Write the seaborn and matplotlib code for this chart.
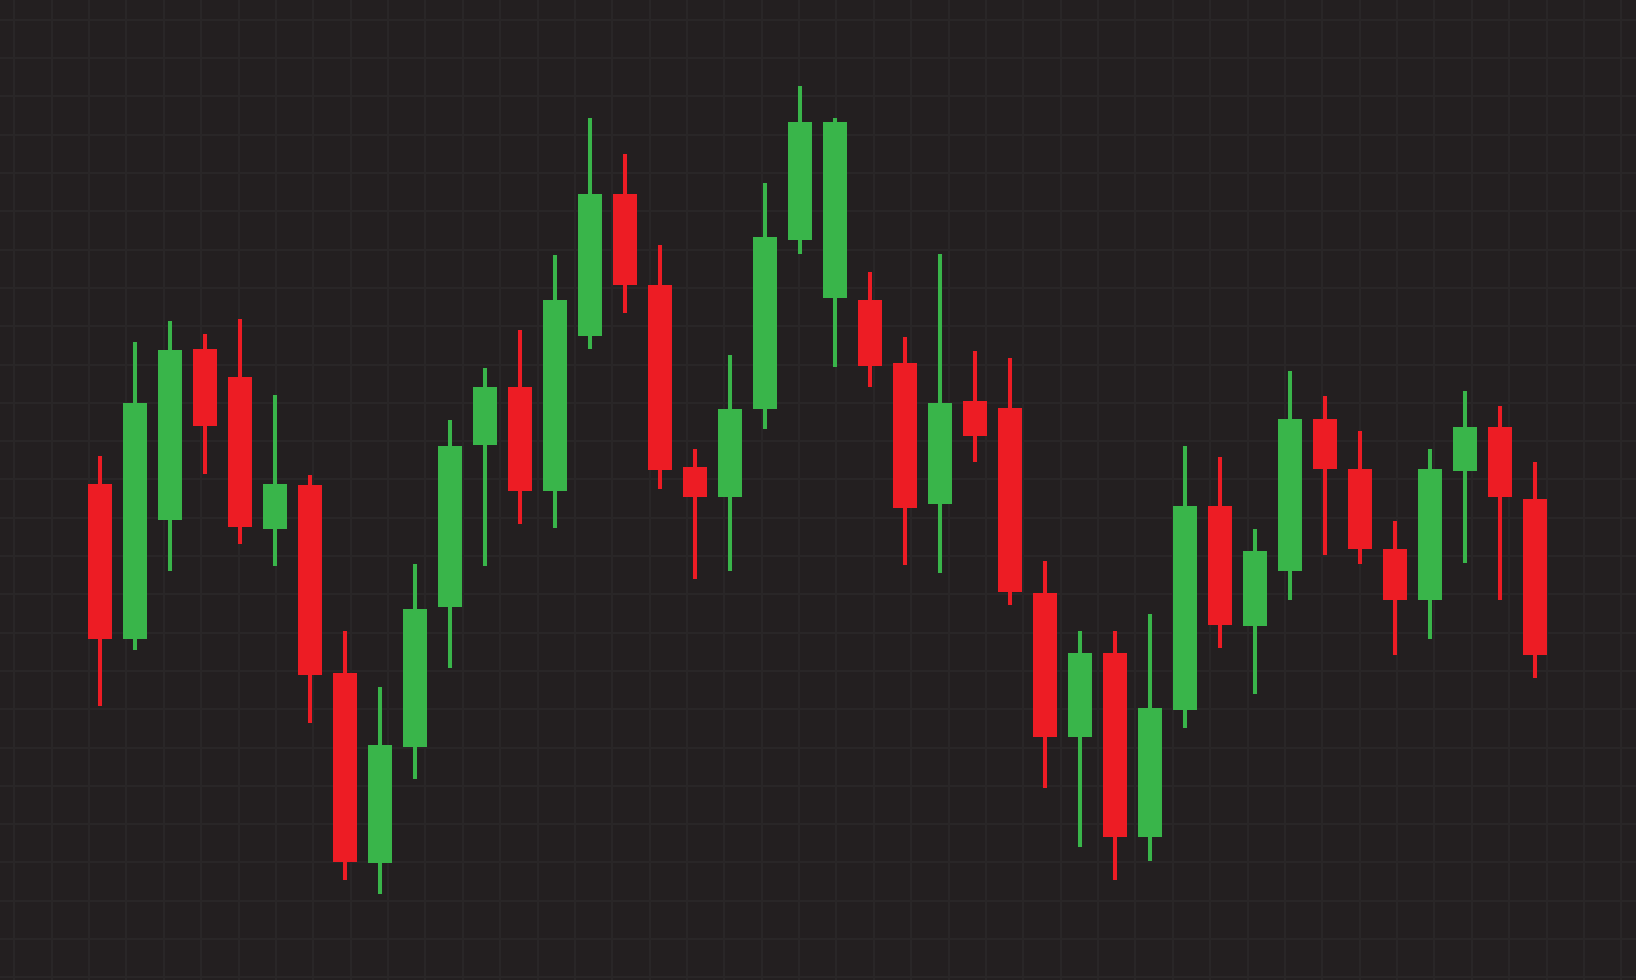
import numpy as np
import pandas as pd
import matplotlib
matplotlib.use("Agg")
import matplotlib.pyplot as plt
import seaborn as sns

opens = [47.5, 32.7, 44.1, 60.5, 57.8, 43.2, 47.4, 29.4, 11.2, 22.3,
         35.7, 51.3, 56.8, 46.9, 61.7, 75.3, 66.6, 49.2, 46.3, 54.7,
         70.9, 65.3, 65.2, 59.1, 45.6, 55.5, 54.8, 37.1, 23.3, 31.3,
         13.7, 25.9, 45.4, 33.9, 39.2, 53.8, 49.0, 41.3, 36.4, 48.8,
         53.0, 46.1]
highs = [50.2, 61.1, 63.1, 61.9, 63.3, 56.1, 48.4, 33.4, 28.1, 39.9,
         53.7, 58.6, 62.3, 69.5, 82.6, 79.1, 70.4, 50.9, 59.9, 76.4,
         85.7, 82.6, 67.8, 61.6, 69.6, 60.3, 59.6, 40.1, 33.4, 33.4,
         35.1, 51.2, 50.1, 43.2, 58.4, 56.0, 52.6, 44.0, 50.9, 56.4,
         55.0, 49.6]
lows = [26.3, 31.6, 39.2, 48.5, 41.8, 39.7, 24.6, 9.6, 8.2, 19.3,
        29.9, 39.7, 43.7, 43.3, 60.5, 63.9, 47.0, 38.4, 39.2, 52.8,
        69.6, 58.7, 56.8, 39.8, 39.0, 49.6, 35.9, 18.4, 12.7, 9.6,
        11.4, 24.1, 31.8, 27.4, 36.4, 40.7, 39.9, 31.1, 32.7, 40.0,
        36.4, 28.9]
closes = [32.7, 55.3, 60.4, 53.1, 43.4, 47.5, 29.2, 11.3, 22.5, 35.5,
          51.2, 56.8, 46.9, 65.2, 75.3, 66.6, 48.9, 46.3, 54.7, 71.2,
          82.2, 82.2, 58.8, 45.2, 55.3, 52.1, 37.2, 23.3, 31.3, 13.7,
          26.1, 45.4, 34.0, 41.1, 53.8, 49.0, 41.3, 36.4, 49.0, 53.0,
          46.3, 31.1]

df = pd.DataFrame({"open": opens, "high": highs, "low": lows, "close": closes})
df["idx"] = np.arange(len(df))
df["up"] = df["close"] >= df["open"]

up_color = "#39B54A"
down_color = "#ED1C24"
bg = "#231F20"
grid_color = "#2A2728"

sns.set_theme(style="dark", rc={"axes.facecolor": bg, "figure.facecolor": bg})

fig = plt.figure(figsize=(16.36, 9.8), dpi=100)
ax = fig.add_axes([0, 0, 1, 1])

colors = np.where(df["up"], up_color, down_color)

# faint background grid
ax.set_axisbelow(True)
x_step = 37.38 / 35.0
y_step = 3.67
ax.set_xticks(np.arange(-2.862 + 14.3 / 35.0, 44.0, x_step))
ax.set_yticks(np.arange(93.9 - 1.9, -1, -y_step))
ax.grid(True, color=grid_color, linewidth=1.3)

ax.vlines(df["idx"], df["low"], df["high"], colors=colors, linewidth=2.9, zorder=2)
body_bottom = df[["open", "close"]].min(axis=1)
body_height = (df["open"] - df["close"]).abs()
ax.bar(df["idx"], body_height, bottom=body_bottom, width=0.69, color=colors,
       linewidth=0, zorder=3)

ax.set_xlim(-2.862, 43.89)
ax.set_ylim(0, 93.9)
ax.tick_params(left=False, bottom=False, labelleft=False, labelbottom=False)
for s in ax.spines.values():
    s.set_visible(False)

fig.savefig("out.png", dpi=100, facecolor=bg)
